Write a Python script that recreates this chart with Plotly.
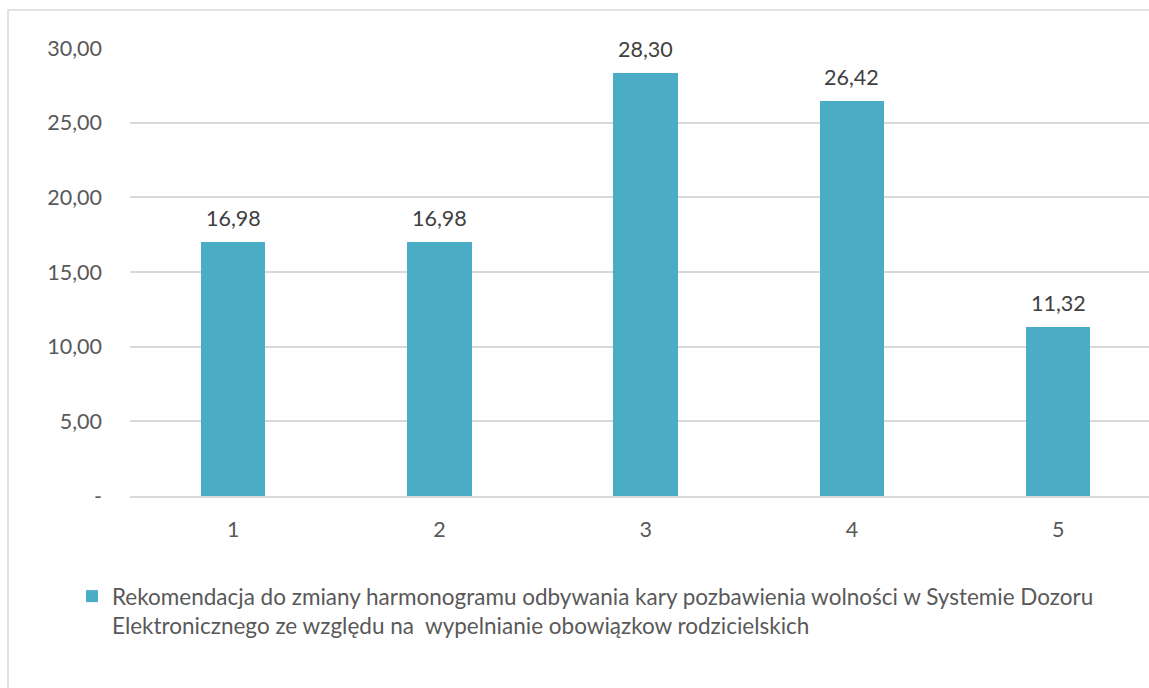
import plotly.graph_objects as go

categories = [1, 2, 3, 4, 5]
values = [16.98, 16.98, 28.30, 26.42, 11.32]
y_tickvals = [0, 5, 10, 15, 20, 25, 30]
y_ticktext = ["-", "5,00", "10,00", "15,00", "20,00", "25,00", "30,00"]
series_name = ("Rekomendacja do zmiany harmonogramu odbywania kary pozbawienia wolności w Systemie Dozoru<br>"
               "Elektronicznego ze względu na  wypelnianie obowiązkow rodzicielskich")

FONT = "Lato"
BAR_COLOR = "#4BACC6"
GRID = "#D9D9D9"
NUM_SIZE = 21.5
LEG_SIZE = 22.5

W, H = 1149, 688
L, R, T, B = 130, 0, 48, 192
pw = W - L - R
ph = H - T - B

fig = go.Figure()
fig.add_trace(go.Bar(
    x=categories, y=values, name=series_name,
    marker=dict(color=BAR_COLOR, line=dict(width=0)),
    width=0.313, showlegend=True,
))

for c, v in zip(categories, values):
    fig.add_annotation(
        x=c, y=v, text=f"{v:.2f}".replace(".", ","),
        showarrow=False, yanchor="bottom", yshift=9,
        font=dict(family=FONT, size=NUM_SIZE, color="#404040"),
    )

# chart border
fig.add_shape(
    type="rect", xref="paper", yref="paper",
    x0=(8 - L) / pw, x1=(W + 20 - L) / pw,
    y0=-1.0, y1=(H - B - 10) / ph,
    line=dict(color=GRID, width=1.5), fillcolor="rgba(0,0,0,0)", layer="below",
)

fig.update_layout(
    width=W, height=H,
    margin=dict(l=L, r=R, t=T, b=B, pad=0),
    paper_bgcolor="white", plot_bgcolor="white",
    separators=",.",
    bargap=0,
    font=dict(family=FONT, size=NUM_SIZE, color="#595959"),
    xaxis=dict(
        range=[0.5, 0.5 + pw / 206.25],
        tickvals=categories, ticktext=[str(c) for c in categories],
        showgrid=False, zeroline=False,
        showline=True, linecolor=GRID, linewidth=1.5,
        ticks="", ticklabelstandoff=13,
        tickfont=dict(family=FONT, size=NUM_SIZE, color="#595959"),
    ),
    yaxis=dict(
        range=[0, 30], tickvals=y_tickvals, ticktext=y_ticktext,
        showgrid=True, gridcolor=GRID, gridwidth=1.5,
        zeroline=False, showline=False, ticks="",
        ticklabelstandoff=27,
        tickfont=dict(family=FONT, size=NUM_SIZE, color="#595959"),
    ),
    legend=dict(
        x=(72 - L) / pw, y=(H - B - 575) / ph, xanchor="left", yanchor="top",
        valign="top", bgcolor="rgba(0,0,0,0)",
        font=dict(family=FONT, size=LEG_SIZE, color="#595959"),
    ),
)

fig.write_html(
    "out.html",
    config={"displayModeBar": False},
    post_script=("document.documentElement.style.overflow='hidden';"
                 "document.body.style.margin='0';document.body.style.overflow='hidden';"),
)
